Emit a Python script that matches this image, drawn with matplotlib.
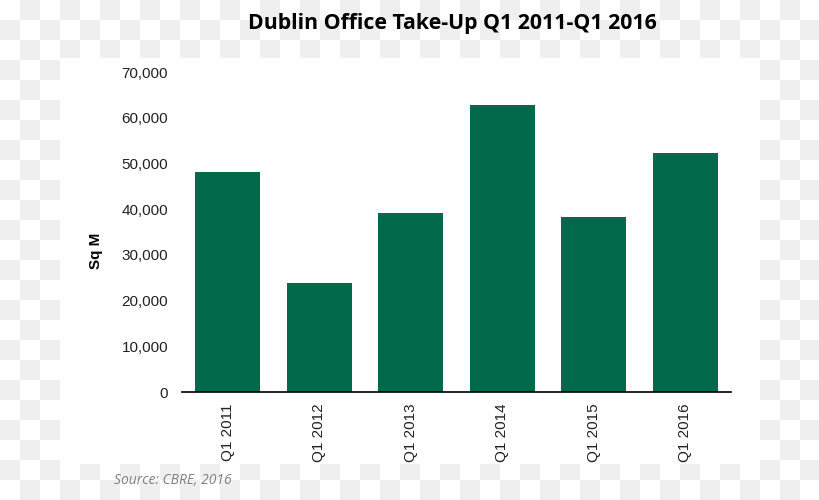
import numpy as np
import matplotlib.pyplot as plt
from matplotlib.patches import Rectangle

# data
quarters = ["Q1 2011", "Q1 2012", "Q1 2013", "Q1 2014", "Q1 2015", "Q1 2016"]
take_up = [48100, 23900, 39200, 62800, 38300, 52300]
y_ticks = [0, 10000, 20000, 30000, 40000, 50000, 60000, 70000]

W, H = 820, 500
fig = plt.figure(figsize=(W / 100, H / 100), dpi=100)

# checkered backdrop, 20 px squares
bg = fig.add_axes([0, 0, 1, 1], zorder=0)
ii, jj = np.meshgrid(np.arange(W) // 20, np.arange(H) // 20)
checker = np.where((ii + jj) % 2 == 1, 0.937, 1.0)
bg.imshow(checker, cmap="gray", vmin=0, vmax=1, extent=(0, W, H, 0),
          interpolation="nearest", aspect="auto")
bg.add_patch(Rectangle((60, 58), 700, 406, facecolor="white", edgecolor="none"))
bg.set_xlim(0, W)
bg.set_ylim(H, 0)
bg.axis("off")

ax = fig.add_axes([182 / W, 1 - 392 / H, 549 / W, 320 / H], zorder=1)
ax.patch.set_alpha(0)
x = np.arange(len(quarters))
ax.bar(x, take_up, width=0.71, color="#026a4b")
ax.set_xlim(-0.5, len(quarters) - 0.5)
ax.set_ylim(0, 70000)
ax.set_yticks(y_ticks)
ax.set_yticklabels([f"{v:,}" for v in y_ticks], fontsize=11,
                   family="Liberation Sans", color="#222222")
ax.set_xticks(x)
ax.set_xticklabels(quarters, rotation=90, fontsize=11,
                   family="Liberation Sans", color="#222222")
ax.tick_params(length=0, pad=8)
ax.tick_params(axis="y", pad=10)
for side in ["top", "right", "left"]:
    ax.spines[side].set_visible(False)
ax.spines["bottom"].set_linewidth(1.2)
ax.set_ylabel("Sq M", fontsize=11, fontweight="bold",
              family="Liberation Sans")
ax.yaxis.set_label_coords(-0.143, 0.44)

fig.text(452 / W, 1 - 23 / H, "Dublin Office Take-Up Q1 2011-Q1 2016",
         ha="center", va="center", fontsize=15.3, fontweight="bold",
         family="Open Sans")
fig.text(114 / W, 1 - 481 / H, "Source: CBRE, 2016", ha="left", va="center",
         fontsize=10, style="italic", color="#808080", family="Open Sans")

fig.savefig("out.png", dpi=100)
